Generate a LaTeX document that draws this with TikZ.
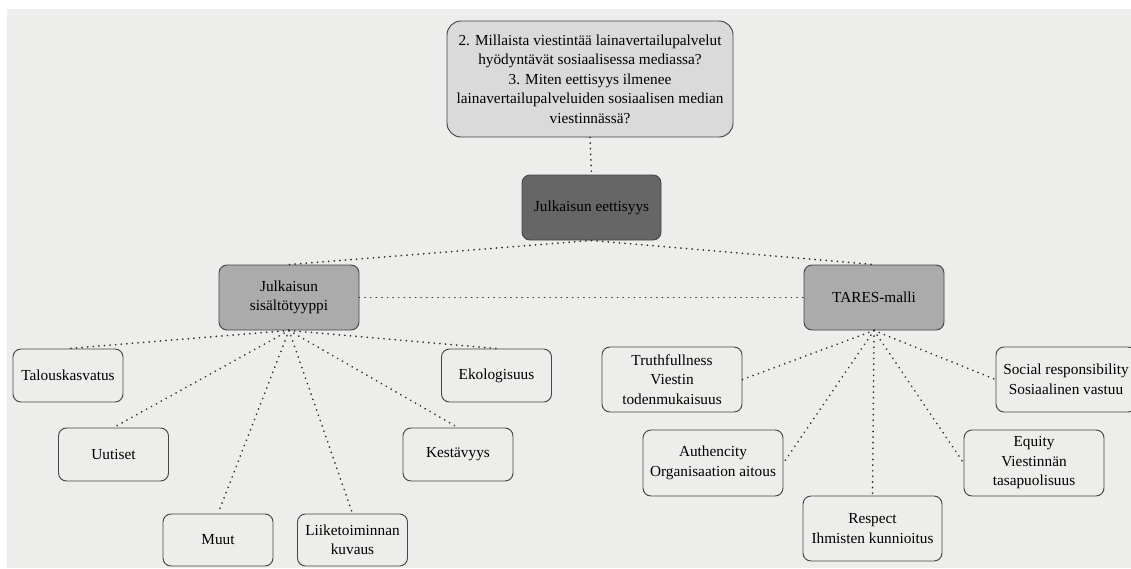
\documentclass[tikz,border=0pt]{standalone}
\usepackage{fontspec}
\setmainfont{Liberation Serif}
\definecolor{canvas}{HTML}{EDEDEB}
\definecolor{qfill}{HTML}{DADADA}
\definecolor{rootfill}{HTML}{666666}
\definecolor{midfill}{HTML}{ABABAB}
\definecolor{edgegray}{HTML}{454545}
\definecolor{dotgray}{HTML}{2E2E2E}
\begin{document}
\begin{tikzpicture}[x=1pt,y=-1pt,
  box/.style={draw=edgegray, line width=0.95pt, rounded corners=8pt, inner sep=0pt,
    align=center, text=black, font=\fontsize{15.3}{19.5}\selectfont},
  leafbox/.style={box, fill=canvas, minimum width=110pt, minimum height=53pt},
  tarebox/.style={box, fill=canvas, minimum width=140pt, minimum height=65pt},
  midbox/.style={box, fill=midfill, minimum width=140pt, minimum height=65pt},
  link/.style={draw=dotgray, line width=1.9pt, line cap=round,
    dash pattern=on 0.01pt off 5.6pt}]
  % page and canvas
  \useasboundingbox (0,0) rectangle (1131,568);
  \fill[white] (0,0) rectangle (1131,568);
  \fill[canvas] (7,9) rectangle (1131,568);

  % research questions
  \node[box, fill=qfill, rounded corners=14pt, minimum width=286pt, minimum height=116pt]
    (q) at (590,79) {2. Millaista viestintää lainavertailupalvelut\\
      hyödyntävät sosiaalisessa mediassa?\\
      3. Miten eettisyys ilmenee\\
      lainavertailupalveluiden sosiaalisen median\\
      viestinnässä?};

  % main levels
  \node[box, fill=rootfill, minimum width=139pt, minimum height=65pt]
    (eth) at (591.5,207.5) {Julkaisun eettisyys};
  \node[midbox] (sis) at (289,297.5) {Julkaisun\\sisältötyyppi};
  \node[midbox] (tares) at (874,297.5) {TARES-malli};

  % content types
  \node[leafbox] (talo) at (68,375.5) {Talouskasvatus};
  \node[leafbox] (uut) at (113.5,454.5) {Uutiset};
  \node[leafbox, minimum height=52pt] (muut) at (218,540) {Muut};
  \node[leafbox, minimum height=52pt] (liike) at (352.5,540) {Liiketoiminnan\\kuvaus};
  \node[leafbox] (kest) at (458,454.5) {Kestävyys};
  \node[leafbox] (eko) at (496.5,375.5) {Ekologisuus};

  % TARES principles
  \node[tarebox] (truth) at (672,379.5) {Truthfullness\\Viestin\\todenmukaisuus};
  \node[tarebox, minimum height=66pt] (auth) at (713,463) {Authencity\\Organisaation aitous};
  \node[tarebox, minimum width=139pt] (resp) at (872.5,528.5) {Respect\\Ihmisten kunnioitus};
  \node[tarebox, minimum height=66pt] (equity) at (1034,463) {Equity\\Viestinnän\\tasapuolisuus};
  \node[tarebox] (social) at (1066,379.5) {Social responsibility\\Sosiaalinen vastuu};

  % connectors
  \draw[link] (q.south) -- (eth.north);
  \draw[link] (eth.south) -- (sis.north);
  \draw[link] (eth.south) -- (tares.north);
  \draw[link] (sis.east) -- (tares.west);
  \foreach \c in {talo,uut,muut,liike,kest,eko}
    \draw[link] (sis.south) -- (\c.north);
  \draw[link] (tares.south) -- (truth.east);
  \draw[link] (tares.south) -- (auth.east);
  \draw[link] (tares.south) -- (resp.north);
  \draw[link] (tares.south) -- (equity.west);
  \draw[link] (tares.south) -- (social.west);
\end{tikzpicture}
\end{document}
